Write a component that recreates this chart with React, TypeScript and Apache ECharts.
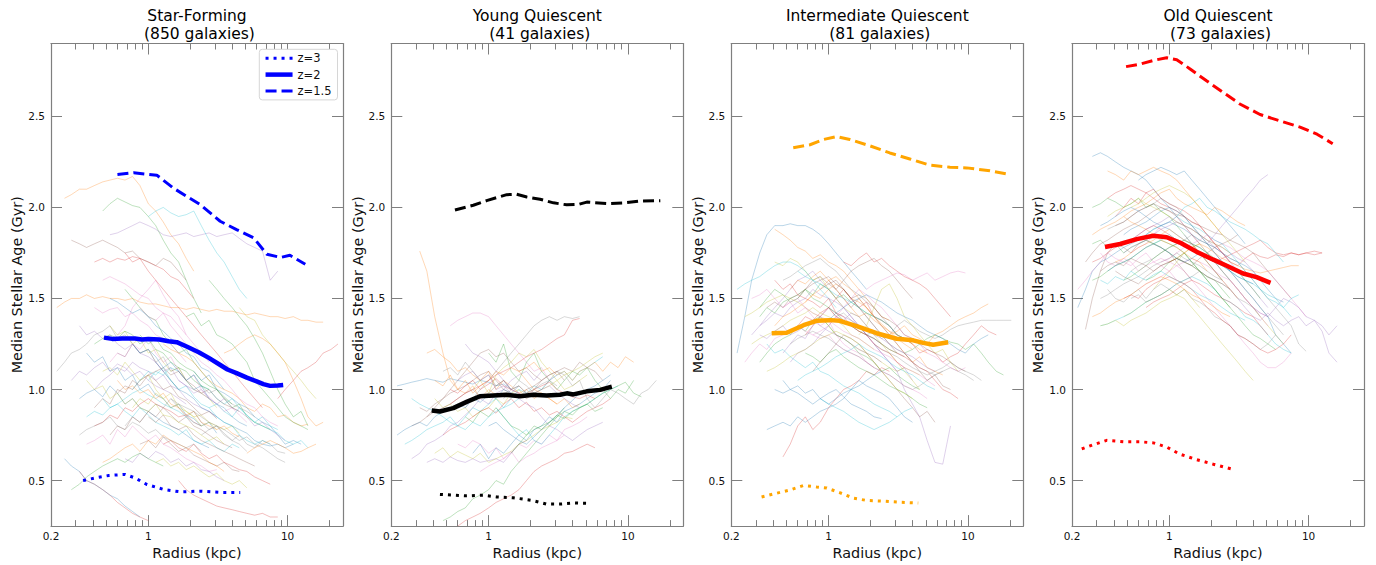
import { useEffect, useRef } from 'react';
import * as echarts from 'echarts';

// ---------------- data ----------------
// radius grid (kpc) shared by the individual galaxy profiles
const RADIUS_GRID = [0.22, 0.25, 0.28, 0.32, 0.36, 0.41, 0.47, 0.53, 0.6, 0.68, 0.77, 0.87, 1.0, 1.13, 1.28, 1.45, 1.65, 1.87, 2.12, 2.4, 2.73, 3.1, 3.5, 4.0, 4.5, 5.1, 5.8, 6.6, 7.5, 8.5, 9.6, 11, 12.5, 14, 16, 18, 20.5, 23];

const PANEL_TITLES = ['Star-Forming', 'Young Quiescent', 'Intermediate Quiescent', 'Old Quiescent'];
const GALAXY_COUNTS = [850, 41, 81, 73];
const MEDIAN_COLORS = ['#0000ff', '#000000', '#ffa500', '#ff0000'];
const PROFILE_COLORS = ['#1f77b4', '#ff7f0e', '#2ca02c', '#d62728', '#9467bd', '#8c564b', '#e377c2', '#7f7f7f', '#bcbd22', '#17becf'];
const LEGEND_LABELS = ['z=3', 'z=2', 'z=1.5'];

const X_LABEL_TICKS = [0.2, 1, 10];
const X_MAJOR_TICKS = [1, 10];
const X_MINOR_TICKS = [0.3, 0.4, 0.5, 0.6, 0.7, 0.8, 0.9, 2, 3, 4, 5, 6, 7, 8, 9, 20];
const Y_TICKS = [0.5, 1.0, 1.5, 2.0, 2.5];
const X_MIN = 0.2;
const X_MAX = 25;
const Y_MIN = 0.25;
const Y_MAX = 2.9;

// individual profiles: [start index in RADIUS_GRID, ages (Gyr)...]
const SF_PROFILES = [
  [4, 1.2, 1.15, 1.18, 1.1, 1.12, 1.05, 1.08, 1.0, 1.03, 0.97, 0.95, 0.9, 0.92, 0.86, 0.84, 0.8, 0.82, 0.76],
  [1, 2.05, 2.07, 2.1, 2.1, 2.12, 2.14, 2.15, 2.16, 2.15, 2.17, 2.12, 2.02, 1.98, 1.92, 1.85, 1.8, 1.72, 1.65],
  [6, 1.98, 2.02, 2.05, 2.03, 2.01, 2.0, 1.95, 1.9, 1.82, 1.75, 1.7, 1.6, 1.5, 1.42],
  [5, 1.7, 1.72, 1.7, 1.72, 1.71, 1.73, 1.72, 1.7, 1.68, 1.66, 1.62, 1.6, 1.55, 1.5],
  [7, 1.85, 1.86, 1.88, 1.9, 1.92, 1.9, 1.88, 1.85, 1.84, 1.85, 1.86, 1.84, 1.85, 1.86, 1.84, 1.85, 1.86, 1.83, 1.8, 1.78, 1.76, 1.6, 1.65],
  [2, 1.82, 1.8, 1.78, 1.8, 1.82, 1.8, 1.78, 1.75, 1.76, 1.72, 1.7, 1.68, 1.72, 1.7, 1.65, 1.6],
  [8, 1.3, 1.35, 1.45, 1.5, 1.55, 1.6, 1.52, 1.45, 1.4, 1.3, 1.25, 1.2, 1.15],
  [0, 1.1, 1.15, 1.2, 1.22, 1.25, 1.3, 1.32, 1.35, 1.28, 1.3, 1.25, 1.2, 1.22, 1.15, 1.1, 1.05, 1.0],
  [6, 1.1, 1.12, 1.08, 1.15, 1.1, 1.05, 1.08, 1.0, 0.95, 0.98, 0.9, 0.88, 0.85, 0.8, 0.82, 0.78],
  [12, 1.95, 1.98, 2.0, 1.97, 1.95, 1.96, 1.98, 1.9, 1.82, 1.75, 1.7, 1.62, 1.55, 1.5],
  [3, 0.95, 0.98, 1.0, 0.96, 1.02, 0.98, 0.92, 0.95, 0.9, 0.88, 0.85, 0.82, 0.8, 0.78, 0.75, 0.72, 0.7, 0.68],
  [0, 1.45, 1.48, 1.5, 1.5, 1.52, 1.5, 1.51, 1.5, 1.5, 1.49, 1.5, 1.48, 1.47, 1.47, 1.46, 1.45, 1.45, 1.44, 1.45, 1.44, 1.43, 1.44, 1.43, 1.43, 1.42, 1.41, 1.42, 1.41, 1.4, 1.4, 1.39, 1.4, 1.38, 1.38, 1.37, 1.37],
  [9, 1.55, 1.5, 1.45, 1.4, 1.38, 1.3, 1.25, 1.2, 1.22, 1.15, 1.1, 1.05, 1.0, 0.95, 0.9, 0.92, 0.85, 0.82, 0.8, 0.78],
  [3, 0.55, 0.5, 0.48, 0.45, 0.42, 0.38, 0.35, 0.32, 0.3, 0.28],
  [5, 1.0, 1.05, 1.08, 1.12, 1.1, 1.15, 1.12, 1.1, 1.05, 1.08, 1.02, 1.0, 0.95, 0.92, 0.9, 0.88, 0.85],
  [7, 0.75, 0.8, 0.78, 0.85, 0.82, 0.88, 0.85, 0.9, 0.86, 0.82, 0.85, 0.8, 0.78, 0.75, 0.72, 0.7, 0.68],
  [4, 0.7, 0.72, 0.75, 0.7, 0.78, 0.74, 0.8, 0.76, 0.72, 0.75, 0.7, 0.68, 0.65, 0.62, 0.6, 0.58, 0.55, 0.56],
  [8, 1.2, 1.18, 1.25, 1.2, 1.22, 1.15, 1.18, 1.1, 1.12, 1.05, 1.08, 1.02, 0.98, 1.0, 0.95, 0.92, 0.9, 0.88, 0.85],
  [10, 0.9, 0.95, 0.92, 0.98, 0.95, 0.9, 0.92, 0.88, 0.85, 0.86, 0.82, 0.8, 0.78, 0.8, 0.76],
  [6, 0.95, 0.9, 0.92, 0.88, 0.85, 0.9, 0.86, 0.82, 0.8, 0.78, 0.75, 0.78, 0.72, 0.7, 0.72, 0.68, 0.66, 0.7, 0.68],
  [13, 1.15, 1.1, 1.05, 1.0, 0.98, 0.95, 0.9, 0.88, 0.85, 0.82, 0.8, 0.78, 0.76, 0.72, 0.7, 0.69, 0.7, 0.68, 0.7],
  [14, 1.25, 1.22, 1.2, 1.18, 1.15, 1.1, 1.05, 1.02, 1.0, 0.98, 0.95, 0.9, 0.88, 0.92, 0.9, 0.85, 0.86, 0.82, 0.8, 0.81],
  [17, 1.4, 1.42, 1.35, 1.38, 1.3, 1.28, 1.25, 1.2, 1.15, 1.05, 1.0, 0.95, 0.9, 0.85, 0.82, 0.8, 0.78],
  [29, 0.95, 1.0, 1.05, 1.1, 1.12, 1.15, 1.2, 1.22, 1.25],
  [2, 1.05, 1.1, 1.08, 1.12, 1.15, 1.1, 1.14, 1.12, 1.08, 1.1, 1.05, 1.02, 1.0, 0.98, 0.95, 0.92],
  [11, 0.7, 0.72, 0.68, 0.74, 0.7, 0.66, 0.68, 0.64, 0.62, 0.6, 0.58, 0.6, 0.56, 0.55],
  [5, 1.45, 1.42, 1.44, 1.45, 1.4, 1.42, 1.38, 1.35, 1.3, 1.28, 1.25, 1.2, 1.15],
  [15, 0.95, 0.92, 0.9, 0.88, 0.85, 0.82, 0.8, 0.78, 0.75, 0.72, 0.74, 0.7, 0.68, 0.65, 0.62, 0.6],
  [7, 1.35, 1.3, 1.32, 1.25, 1.28, 1.2, 1.22, 1.15, 1.1, 1.12, 1.05, 1.0, 0.98, 0.95, 0.9],
  [10, 1.0, 1.05, 1.1, 1.08, 1.12, 1.05, 1.0, 1.02, 0.96, 0.92, 0.9, 0.85, 0.82, 0.8, 0.75, 0.72, 0.7, 0.72, 0.7],
  [18, 1.1, 1.05, 1.08, 1.0, 0.98, 0.95, 0.92, 0.9, 0.85, 0.82, 0.8, 0.75, 0.7, 0.72, 0.7],
  [22, 1.2, 1.22, 1.25, 1.28, 1.3, 1.28, 1.25, 1.2, 1.15, 1.05, 0.95, 0.85, 0.8, 0.82],
  [20, 1.6, 1.55, 1.5, 1.45, 1.4, 1.35, 1.28, 1.2, 1.1, 1.0, 0.92, 0.85, 0.88, 0.8],
  [16, 0.5, 0.45, 0.42, 0.4, 0.38, 0.36, 0.35, 0.34, 0.33, 0.32, 0.31, 0.32, 0.3, 0.3],
  [9, 0.62, 0.6, 0.65, 0.62, 0.66, 0.64, 0.6, 0.62, 0.58, 0.6, 0.56, 0.55, 0.52, 0.5],
  [12, 0.85, 0.82, 0.86, 0.8, 0.78, 0.8, 0.75, 0.72, 0.7, 0.68, 0.66, 0.64, 0.62, 0.6, 0.58],
  [6, 1.6, 1.62, 1.6, 1.58, 1.55, 1.52, 1.5, 1.45, 1.42, 1.4, 1.35, 1.3],
  [19, 0.75, 0.78, 0.8, 0.76, 0.72, 0.75, 0.7, 0.68, 0.72, 0.7, 0.66, 0.65],
  [24, 1.45, 1.4, 1.38, 1.3, 1.25, 1.2, 1.15, 1.1, 1.05, 1.0, 0.95],
  [4, 0.85, 0.88, 0.86, 0.9, 0.92, 0.95, 0.98, 1.0, 0.97, 0.95, 0.92, 0.9, 0.88, 0.85, 0.82, 0.8],
  [1, 0.62, 0.58, 0.55, 0.5, 0.48, 0.45, 0.42, 0.4, 0.36, 0.33, 0.3],
  [8, 1.05, 1.0, 1.02, 0.98, 1.0, 0.95, 0.98, 0.92, 0.9, 0.86, 0.88, 0.82, 0.8, 0.78, 0.8, 0.76, 0.74],
  [11, 1.3, 1.25, 1.28, 1.22, 1.2, 1.15, 1.12, 1.1, 1.05, 1.02, 1.0, 0.96, 0.92],
  [5, 0.8, 0.82, 0.86, 0.84, 0.9, 0.88, 0.92, 0.95, 0.92, 0.9, 0.88, 0.85, 0.86, 0.82, 0.8],
  [3, 1.35, 1.3, 1.32, 1.28, 1.3, 1.25, 1.22, 1.25, 1.2, 1.18, 1.15, 1.1, 1.12, 1.05, 1.02, 1.0, 0.98, 0.95],
  [5, 0.9, 0.95, 0.92, 1.0, 0.98, 1.05, 1.02, 1.08, 1.05, 1.0, 1.02, 0.96, 0.94, 0.9, 0.86, 0.88, 0.84],
  [7, 1.15, 1.2, 1.18, 1.25, 1.22, 1.28, 1.2, 1.15, 1.18, 1.1, 1.05, 1.08, 1.0, 0.96, 0.92, 0.88, 0.9, 0.86, 0.82],
  [9, 0.8, 0.85, 0.82, 0.88, 0.92, 0.9, 0.95, 0.9, 0.85, 0.88, 0.82, 0.78, 0.8, 0.75, 0.72, 0.7, 0.66],
  [4, 1.05, 1.0, 1.02, 0.95, 0.98, 0.92, 0.95, 0.9, 0.88, 0.92, 0.86, 0.85, 0.82, 0.8, 0.78, 0.75, 0.72, 0.74, 0.7],
  [12, 1.05, 1.1, 1.08, 1.12, 1.1, 1.05, 1.08, 1.02, 1.0, 0.95, 0.92, 0.95, 0.9, 0.86, 0.82, 0.85, 0.8, 0.78],
  [10, 1.25, 1.2, 1.22, 1.18, 1.12, 1.15, 1.1, 1.05, 1.0, 1.02, 0.95, 0.92, 0.9, 0.85, 0.82, 0.8],
  [6, 0.6, 0.62, 0.65, 0.68, 0.7, 0.66, 0.72, 0.7, 0.75, 0.72, 0.7, 0.68, 0.66, 0.64, 0.6, 0.58, 0.55],
  [2, 0.45, 0.48, 0.52, 0.55, 0.58, 0.6, 0.62, 0.6, 0.63, 0.65, 0.62, 0.6, 0.58],
  [14, 0.7, 0.72, 0.68, 0.66, 0.7, 0.65, 0.62, 0.64, 0.6, 0.58, 0.56, 0.55, 0.52, 0.5, 0.48],
  [16, 1.05, 1.02, 0.98, 1.0, 0.95, 0.92, 0.95, 0.9, 0.88, 0.85, 0.8, 0.82, 0.78, 0.75, 0.72],
  [8, 0.98, 1.02, 1.0, 1.05, 1.08, 1.1, 1.12, 1.08, 1.1, 1.05, 1.02, 0.98, 1.0, 0.95, 0.92, 0.9, 0.88],
  [11, 1.45, 1.4, 1.38, 1.42, 1.35, 1.3, 1.25, 1.2, 1.15, 1.12, 1.08, 1.05, 1.0, 0.95, 0.92, 0.9, 0.85, 0.82, 0.8],
  [3, 0.75, 0.78, 0.8, 0.82, 0.85, 0.8, 0.78, 0.82, 0.8, 0.76, 0.78, 0.74, 0.72, 0.7, 0.68, 0.7, 0.66],
  [13, 0.6, 0.62, 0.58, 0.6, 0.56, 0.58, 0.55, 0.52, 0.54, 0.5, 0.48, 0.5, 0.46],
  [20, 0.9, 0.92, 0.88, 0.85, 0.9, 0.86, 0.82, 0.8, 0.78, 0.76, 0.72, 0.7, 0.72, 0.68],
  [7, 1.5, 1.48, 1.45, 1.42, 1.44, 1.4, 1.35, 1.32, 1.28, 1.25, 1.2, 1.18, 1.12, 1.1, 1.05, 1.0],
  [25, 0.65, 0.68, 0.7, 0.72, 0.7, 0.68, 0.65, 0.66, 0.68, 0.7],
  [5, 1.25, 1.28, 1.3, 1.28, 1.32, 1.3, 1.25, 1.28, 1.22, 1.2, 1.15, 1.12, 1.1, 1.05, 1.02, 1.0],
  [9, 1.75, 1.7, 1.72, 1.65, 1.6, 1.55, 1.5, 1.45, 1.4, 1.35, 1.3, 1.25, 1.2, 1.15, 1.1, 1.05, 1.0, 0.95, 0.9],
];

const YQ_PROFILES = [
  [0, 1.02, 1.03, 1.04, 1.05, 1.06, 1.05, 1.04, 1.06, 1.05, 1.04, 1.03, 1.05, 1.04, 1.02, 1.03, 1.0],
  [3, 1.76, 1.65, 1.4, 1.2, 1.05, 1.0, 0.98, 1.02, 0.95, 1.0, 0.97],
  [6, 0.28, 0.3, 0.33, 0.35, 0.4, 0.42, 0.45, 0.5, 0.48, 0.55, 0.6, 0.65, 0.7, 0.75, 0.8, 0.85, 0.9],
  [8, 0.25, 0.28, 0.3, 0.32, 0.35, 0.38, 0.4, 0.42, 0.45, 0.5, 0.55, 0.58, 0.6, 0.62, 0.65, 0.66, 0.68, 0.7, 0.68],
  [4, 0.6, 0.62, 0.6, 0.63, 0.61, 0.6, 0.62, 0.6, 0.61, 0.62, 0.6, 0.65, 0.7, 0.72],
  [2, 0.8, 0.82, 0.85, 0.9, 0.95, 1.0, 1.05, 1.1, 1.15, 1.2, 1.22, 1.18, 1.2, 1.15, 1.1, 1.12, 1.08, 1.05],
  [7, 1.35, 1.38, 1.4, 1.42, 1.42, 1.4, 1.35, 1.3, 1.25, 1.2, 1.15, 1.1, 1.12, 1.05, 1.08],
  [9, 0.9, 0.95, 1.0, 1.05, 1.1, 1.15, 1.2, 1.25, 1.3, 1.35, 1.38, 1.4, 1.38, 1.4, 1.39, 1.4],
  [5, 0.95, 0.9, 0.92, 0.88, 0.9, 0.85, 0.88, 0.9, 0.95, 0.92, 0.98, 1.0, 0.95, 0.98, 1.0, 1.02, 1.05, 1.0, 1.02, 1.05, 1.08],
  [1, 0.7, 0.72, 0.75, 0.78, 0.8, 0.82, 0.85, 0.8, 0.85, 0.9, 0.88, 0.92, 0.95, 0.9, 0.95, 1.0, 0.98, 1.02, 1.0, 1.05, 1.08, 1.1, 1.05, 1.1, 1.12, 1.15, 1.18],
  [10, 0.65, 0.7, 0.62, 0.68, 0.65, 0.7, 0.75, 0.72, 0.78, 0.8, 0.85, 0.82, 0.88, 0.9, 0.92, 0.95, 0.98, 1.0, 1.05],
  [4, 1.2, 1.22, 1.18, 1.15, 1.1, 1.12, 1.08, 1.05, 1.1, 1.0, 1.05, 1.02, 0.98, 1.0, 0.95, 0.98, 0.95, 0.92, 0.95, 0.9, 0.92],
  [12, 1.2, 1.15, 1.25, 1.1, 1.05, 1.15, 1.2, 1.1, 1.05, 1.0, 1.05, 1.1, 1.08, 1.12, 1.05, 1.0, 0.95, 1.0, 0.98, 1.05],
  [6, 0.75, 0.78, 0.8, 0.82, 0.85, 0.88, 0.9, 0.87, 0.92, 0.95, 0.9, 0.93, 0.88, 0.9, 0.86, 0.88, 0.85, 0.82, 0.85, 0.88, 0.9, 0.92, 0.95],
  [8, 1.05, 1.08, 1.1, 1.05, 1.08, 1.0, 1.02, 0.98, 0.95, 0.92, 0.9, 0.85, 0.8, 0.78, 0.75, 0.72, 0.75, 0.78, 0.8, 0.82],
  [3, 0.9, 0.88, 0.92, 0.95, 0.98, 1.0, 1.02, 1.05, 1.08, 1.1, 1.05, 1.0, 0.98, 0.95, 1.0, 1.02, 1.05, 1.08, 1.1, 1.12, 1.1, 1.15, 1.12, 1.1, 1.05],
  [11, 0.55, 0.58, 0.6, 0.62, 0.65, 0.7, 0.68, 0.72, 0.7, 0.75, 0.72, 0.78, 0.8, 0.82, 0.85],
  [14, 0.95, 1.0, 1.05, 1.02, 0.98, 1.0, 1.05, 1.1, 1.08, 1.02, 1.05, 0.95, 0.9, 0.95, 1.0, 0.98, 0.95, 0.92, 0.98, 1.0, 1.05],
  [5, 0.65, 0.68, 0.63, 0.66, 0.64, 0.62, 0.65, 0.6, 0.62, 0.64, 0.66, 0.7, 0.72, 0.75, 0.78, 0.8, 0.82, 0.85, 0.84],
  [13, 0.9, 0.85, 0.8, 0.75, 0.78, 0.72, 0.7, 0.75, 0.8, 0.85, 0.88, 0.9, 0.92, 0.95, 0.98, 1.0, 1.02],
  [0, 0.75, 0.78, 0.8, 0.82, 0.8, 0.85, 0.88, 0.9, 0.92, 0.9, 0.95, 0.93, 0.97, 0.95, 1.0, 0.98, 1.02],
  [16, 1.1, 1.12, 1.15, 1.1, 1.12, 1.08, 1.1, 1.05, 1.1, 1.12, 1.15, 1.1, 1.15, 1.12, 1.18, 1.15],
  [9, 0.85, 0.82, 0.88, 0.85, 0.9, 0.85, 0.8, 0.78, 0.75, 0.78, 0.8, 0.82, 0.85, 0.88, 0.86, 0.9, 0.92, 0.88, 0.9],
  [7, 1.0, 0.98, 1.02, 1.05, 1.0, 1.03, 1.06, 1.02, 1.0, 0.98, 0.96, 1.0, 1.02, 1.04, 1.0, 0.98, 0.96, 0.95, 0.97, 0.95],
  [2, 0.62, 0.65, 0.7, 0.72, 0.75, 0.8, 0.82, 0.86, 0.9, 0.95, 0.92, 0.98, 1.0, 1.05, 1.08, 1.1, 1.05, 1.1],
  [4, 0.85, 0.88, 0.9, 0.92, 0.95, 0.98, 1.0, 0.96, 0.98, 1.02, 1.05, 1.0, 1.02, 0.98, 1.0, 1.05, 1.08, 1.1, 1.05],
  [8, 0.7, 0.68, 0.72, 0.7, 0.65, 0.68, 0.62, 0.66, 0.6, 0.63, 0.65, 0.68, 0.7, 0.72, 0.75],
  [6, 1.1, 1.12, 1.08, 1.15, 1.1, 1.05, 1.08, 1.02, 1.05, 1.0, 1.02, 0.98, 1.0, 1.03, 1.05, 1.02],
  [10, 1.0, 1.05, 0.98, 1.08, 1.12, 1.15, 1.2, 1.18, 1.22, 1.15, 1.1, 1.05, 1.08, 1.1, 1.12, 1.15, 1.18, 1.2],
  [2, 0.95, 0.92, 0.9, 0.88, 0.85, 0.82, 0.8, 0.78, 0.82, 0.8, 0.85, 0.88, 0.9, 0.92, 0.95],
  [12, 0.8, 0.82, 0.78, 0.75, 0.72, 0.7, 0.74, 0.78, 0.82, 0.86, 0.9, 0.94, 0.98, 1.0, 1.02, 1.05, 1.08],
  [5, 1.05, 1.02, 1.08, 1.0, 1.05, 0.98, 1.02, 1.05, 1.1, 1.08, 1.12, 1.1, 1.05, 1.0, 0.98, 0.95, 0.92],
  [15, 0.65, 0.7, 0.75, 0.8, 0.78, 0.82, 0.86, 0.84, 0.88, 0.9, 0.92, 0.95, 0.98, 1.0, 1.02, 1.04, 0.98, 0.96],
  [7, 0.92, 0.95, 0.98, 1.0, 1.02, 1.05, 1.08, 1.1, 1.12, 1.15, 1.18, 1.2, 1.22, 1.25, 1.28, 1.3, 1.38, 1.39],
  [9, 1.25, 1.2, 1.18, 1.15, 1.1, 1.05, 1.0, 0.98, 0.95, 0.98, 1.0, 1.02, 0.98, 0.95, 0.92, 0.9],
];

const IQ_PROFILES = [
  [0, 1.2, 1.4, 1.6, 1.75, 1.85, 1.9, 1.9, 1.91, 1.9, 1.9, 1.88, 1.85, 1.8, 1.75, 1.7, 1.65, 1.6, 1.55],
  [5, 1.88, 1.85, 1.82, 1.78, 1.76, 1.72, 1.74, 1.7, 1.68, 1.65, 1.6, 1.55, 1.5, 1.45, 1.4, 1.38],
  [3, 1.45, 1.5, 1.55, 1.52, 1.48, 1.5, 1.55, 1.52, 1.58, 1.55, 1.5, 1.52, 1.48, 1.45, 1.42, 1.4, 1.38, 1.35, 1.3, 1.28, 1.25],
  [6, 0.63, 0.7, 0.8, 0.85, 0.78, 0.82, 0.9, 0.95, 1.0, 1.02, 1.05, 1.1, 1.08, 1.12, 1.1],
  [2, 1.3, 1.35, 1.4, 1.45, 1.5, 1.55, 1.6, 1.62, 1.65, 1.6, 1.55, 1.5, 1.45, 1.4, 1.35, 1.3, 1.25, 1.2, 1.15, 1.1, 1.12, 1.05],
  [8, 1.5, 1.55, 1.6, 1.62, 1.58, 1.55, 1.6, 1.65, 1.68, 1.7, 1.72, 1.68, 1.65, 1.6, 1.55, 1.5],
  [17, 1.55, 1.58, 1.6, 1.62, 1.64, 1.63, 1.6, 1.62, 1.64, 1.6, 1.62, 1.64, 1.65, 1.64],
  [12, 1.45, 1.4, 1.42, 1.38, 1.35, 1.3, 1.32, 1.28, 1.3, 1.35, 1.38, 1.35, 1.32, 1.3, 1.28, 1.3, 1.33, 1.35, 1.36, 1.37, 1.38, 1.38, 1.38, 1.38, 1.38],
  [1, 1.4, 1.42, 1.45, 1.48, 1.5, 1.52, 1.5, 1.48, 1.45, 1.42, 1.4, 1.35, 1.3, 1.28, 1.25, 1.22, 1.2, 1.18, 1.15, 1.12, 1.1, 1.12, 1.1, 1.08],
  [4, 1.25, 1.2, 1.22, 1.18, 1.15, 1.12, 1.15, 1.1, 1.08, 1.05, 1.02, 1.0, 0.98, 0.95, 0.92, 0.9, 0.88, 0.85],
  [5, 1.0, 0.98, 1.0, 1.02, 0.98, 1.0, 0.95, 0.92, 0.95, 0.98, 1.0, 1.05, 1.02, 1.0, 0.98, 0.95, 0.9, 0.85, 0.82],
  [7, 1.55, 1.6, 1.58, 1.62, 1.65, 1.6, 1.55, 1.5, 1.45, 1.4, 1.42, 1.38, 1.35, 1.3, 1.25, 1.2, 1.15, 1.18, 1.12, 1.1, 1.08],
  [3, 1.15, 1.2, 1.25, 1.28, 1.3, 1.35, 1.32, 1.38, 1.4, 1.35, 1.3, 1.28, 1.25, 1.2, 1.18, 1.15, 1.1, 1.12, 1.08, 1.05, 1.02, 1.0],
  [9, 1.3, 1.35, 1.4, 1.45, 1.5, 1.55, 1.5, 1.45, 1.48, 1.4, 1.38, 1.35, 1.3, 1.28, 1.25, 1.2, 1.22, 1.2, 1.15, 1.18, 1.2, 1.25, 1.3, 1.35, 1.32, 1.3],
  [6, 1.2, 1.25, 1.3, 1.28, 1.35, 1.4, 1.45, 1.42, 1.4, 1.38, 1.35, 1.3, 1.25, 1.2, 1.15, 1.1, 1.0, 0.92, 0.85, 0.72, 0.6, 0.59, 0.8],
  [10, 1.1, 1.15, 1.2, 1.25, 1.3, 1.28, 1.25, 1.2, 1.15, 1.1, 1.05, 1.0, 0.95, 0.9, 0.85, 0.88, 0.82],
  [2, 1.5, 1.52, 1.55, 1.5, 1.45, 1.48, 1.42, 1.45, 1.4, 1.35, 1.38, 1.3, 1.25, 1.22, 1.2, 1.15, 1.12, 1.1, 1.08, 1.05, 1.02, 1.0, 0.98, 0.95],
  [14, 1.55, 1.5, 1.45, 1.4, 1.35, 1.3, 1.25, 1.22, 1.2, 1.15, 1.12, 1.1, 1.08, 1.1, 1.12, 1.1, 1.08, 1.05],
  [5, 1.7, 1.68, 1.72, 1.7, 1.65, 1.6, 1.62, 1.55, 1.5, 1.45, 1.42, 1.4, 1.35, 1.3, 1.25, 1.2, 1.15, 1.1, 1.05, 1.0],
  [11, 0.95, 0.92, 0.9, 0.88, 0.85, 0.82, 0.8, 0.78, 0.8, 0.82, 0.85, 0.88, 0.9],
  [4, 0.78, 0.8, 0.82, 0.8, 0.85, 0.82, 0.85, 0.88, 0.9, 0.92, 0.95, 1.0, 1.02, 1.05, 1.08, 1.1],
  [20, 1.3, 1.32, 1.35, 1.3, 1.28, 1.25, 1.3, 1.32, 1.35, 1.38, 1.4, 1.42, 1.45, 1.47],
  [22, 1.2, 1.22, 1.25, 1.28, 1.3, 1.28, 1.26, 1.25, 1.22, 1.25, 1.2, 1.15, 1.1, 1.08],
  [8, 1.35, 1.4, 1.38, 1.42, 1.45, 1.4, 1.38, 1.35, 1.32, 1.3, 1.28, 1.25, 1.22, 1.2, 1.18, 1.15, 1.12, 1.1, 1.05, 1.0, 0.98, 0.95],
  [3, 1.35, 1.38, 1.42, 1.4, 1.45, 1.48, 1.5, 1.55, 1.52, 1.5, 1.48, 1.45, 1.4, 1.35, 1.3, 1.28, 1.25],
  [12, 1.6, 1.55, 1.5, 1.45, 1.5, 1.45, 1.4, 1.35, 1.3, 1.25, 1.2, 1.15, 1.1, 1.05, 1.08, 1.02, 1.0],
  [1, 1.15, 1.2, 1.25, 1.22, 1.28, 1.3, 1.32, 1.35, 1.32, 1.3, 1.28, 1.3, 1.25, 1.22, 1.2, 1.18, 1.15, 1.12],
  [7, 1.25, 1.28, 1.3, 1.32, 1.3, 1.28, 1.25, 1.22, 1.2, 1.18, 1.15, 1.12, 1.1, 1.08, 1.05, 1.02, 1.0, 1.02, 1.05, 1.08, 1.1],
  [16, 1.3, 1.35, 1.45, 1.55, 1.58, 1.5, 1.4, 1.35, 1.3, 1.25, 1.2, 1.22, 1.15, 1.1],
  [0, 1.55, 1.58, 1.6, 1.62, 1.65, 1.68, 1.7, 1.7, 1.68, 1.65, 1.6, 1.55, 1.5, 1.45],
  [6, 1.05, 1.0, 0.98, 0.95, 0.92, 0.95, 0.98, 1.0, 0.96, 0.92, 0.9, 0.88, 0.85, 0.84],
  [9, 1.48, 1.52, 1.5, 1.55, 1.58, 1.55, 1.5, 1.48, 1.45, 1.4, 1.36, 1.32, 1.28, 1.25, 1.22],
  [3, 1.4, 1.45, 1.42, 1.48, 1.5, 1.52, 1.55, 1.5, 1.48, 1.45, 1.42, 1.38, 1.35, 1.32, 1.3, 1.28, 1.25, 1.22, 1.2],
  [5, 1.6, 1.55, 1.58, 1.52, 1.5, 1.48, 1.45, 1.5, 1.42, 1.4, 1.35, 1.32, 1.3, 1.25, 1.22, 1.2, 1.15, 1.12],
  [7, 1.15, 1.2, 1.22, 1.25, 1.3, 1.35, 1.4, 1.38, 1.42, 1.4, 1.35, 1.3, 1.28, 1.25, 1.22, 1.2, 1.18, 1.15, 1.12, 1.1],
  [4, 1.45, 1.48, 1.45, 1.5, 1.52, 1.55, 1.58, 1.6, 1.62, 1.58, 1.55, 1.5, 1.45, 1.4, 1.35, 1.3, 1.25, 1.2, 1.18],
  [10, 1.3, 1.32, 1.35, 1.4, 1.45, 1.5, 1.55, 1.52, 1.48, 1.45, 1.4, 1.35, 1.3, 1.28, 1.25, 1.2, 1.18, 1.15, 1.12, 1.1, 1.12],
  [6, 1.6, 1.62, 1.65, 1.68, 1.7, 1.72, 1.68, 1.65, 1.6, 1.55, 1.52, 1.5, 1.45, 1.4, 1.35, 1.3],
  [2, 1.25, 1.28, 1.3, 1.32, 1.35, 1.38, 1.4, 1.42, 1.45, 1.42, 1.4, 1.38, 1.35, 1.3, 1.28, 1.25, 1.22],
  [8, 1.05, 1.08, 1.1, 1.12, 1.15, 1.18, 1.2, 1.22, 1.25, 1.22, 1.2, 1.18, 1.15, 1.12, 1.1, 1.08, 1.05, 1.02, 1.0],
  [12, 1.38, 1.42, 1.45, 1.48, 1.5, 1.52, 1.5, 1.48, 1.45, 1.42, 1.4, 1.38, 1.35, 1.32, 1.3, 1.28, 1.25, 1.22, 1.2, 1.25, 1.28, 1.3],
  [5, 1.35, 1.4, 1.42, 1.45, 1.48, 1.52, 1.55, 1.6, 1.62, 1.58, 1.55, 1.5, 1.45, 1.4, 1.35, 1.32, 1.3, 1.28, 1.25, 1.22, 1.2],
  [9, 1.2, 1.18, 1.15, 1.2, 1.22, 1.18, 1.15, 1.12, 1.1, 1.08, 1.05, 1.02, 1.0, 0.98, 0.95, 0.92, 0.9],
  [14, 1.7, 1.68, 1.72, 1.75, 1.7, 1.72, 1.68, 1.65, 1.62, 1.6, 1.58, 1.55, 1.5, 1.45, 1.4],
  [3, 1.3, 1.28, 1.32, 1.35, 1.3, 1.32, 1.35, 1.38, 1.35, 1.32, 1.3, 1.28, 1.25, 1.22, 1.2, 1.18, 1.15],
  [11, 1.55, 1.58, 1.6, 1.55, 1.5, 1.52, 1.48, 1.45, 1.4, 1.38, 1.35, 1.3, 1.28, 1.25, 1.22, 1.2, 1.18, 1.15, 1.12, 1.1],
  [6, 1.45, 1.48, 1.5, 1.45, 1.42, 1.4, 1.38, 1.35, 1.32, 1.3, 1.28, 1.25, 1.22, 1.2, 1.18, 1.15, 1.12, 1.1, 1.08, 1.05, 1.02],
  [18, 1.25, 1.22, 1.2, 1.18, 1.15, 1.12, 1.1, 1.08, 1.1, 1.12, 1.15, 1.12, 1.1, 1.08, 1.05],
  [4, 1.1, 1.12, 1.15, 1.18, 1.2, 1.22, 1.25, 1.28, 1.3, 1.32, 1.3, 1.28, 1.25, 1.2, 1.15, 1.1, 1.05, 1.0, 0.98, 0.95],
  [8, 1.65, 1.62, 1.6, 1.58, 1.55, 1.52, 1.5, 1.48, 1.45, 1.42, 1.4, 1.38, 1.35, 1.3, 1.28],
];

const OQ_PROFILES = [
  [2, 2.28, 2.3, 2.28, 2.25, 2.22, 2.2, 2.18, 2.15, 2.1, 2.05, 2.0, 1.95],
  [4, 2.2, 2.18, 2.15, 2.2, 2.18, 2.2, 2.22, 2.2, 2.18, 2.15, 2.1, 2.05, 2.0, 1.95, 1.9, 1.85],
  [2, 2.0, 2.02, 2.05, 2.03, 2.0, 2.02, 2.05, 2.0, 2.02, 1.98, 1.95, 1.9, 1.85, 1.8, 1.75, 1.7, 1.65, 1.6],
  [5, 1.95, 2.0, 2.05, 2.02, 2.08, 2.1, 2.05, 2.02, 2.0, 1.98, 1.95, 1.9, 1.85, 1.8, 1.75, 1.7, 1.68, 1.72, 1.75, 1.73, 1.72, 1.74, 1.73, 1.75, 1.74, 1.75, 1.76, 1.75],
  [17, 1.8, 1.85, 1.9, 1.95, 2.0, 2.05, 2.1, 2.15, 2.18],
  [1, 1.33, 1.5, 1.65, 1.75, 1.8, 1.78, 1.75, 1.8, 1.82, 1.8, 1.78, 1.75, 1.7, 1.65, 1.6],
  [3, 1.75, 1.7, 1.68, 1.72, 1.7, 1.65, 1.68, 1.7, 1.72, 1.7, 1.68, 1.65, 1.6, 1.55, 1.5, 1.45, 1.4, 1.35, 1.3, 1.25, 1.2, 1.15, 1.12, 1.12, 1.15, 1.2],
  [4, 1.55, 1.5, 1.48, 1.52, 1.55, 1.5, 1.55, 1.58, 1.55, 1.52, 1.55, 1.5, 1.48, 1.45, 1.4, 1.38, 1.35, 1.3, 1.28, 1.25, 1.22, 1.25, 1.3],
  [6, 1.4, 1.42, 1.45, 1.48, 1.5, 1.52, 1.55, 1.52, 1.5, 1.45, 1.4, 1.35, 1.3, 1.25, 1.2, 1.15, 1.1, 1.05],
  [3, 1.35, 1.36, 1.38, 1.4, 1.42, 1.45, 1.48, 1.5, 1.52, 1.55, 1.58, 1.6, 1.62, 1.6, 1.58, 1.55, 1.5, 1.48, 1.45, 1.4, 1.38, 1.35, 1.3, 1.25, 1.22, 1.2],
  [0, 1.45, 1.55, 1.65, 1.7, 1.72, 1.75, 1.78, 1.8, 1.82, 1.85, 1.88, 1.9, 1.92, 1.9, 1.88, 1.85, 1.82, 1.8, 1.78, 1.75, 1.72, 1.7, 1.68, 1.65, 1.6, 1.55, 1.5, 1.48],
  [6, 1.95, 1.98, 2.0, 2.02, 2.05, 2.08, 2.1, 2.05, 2.02, 2.0, 1.98, 1.96, 2.0, 1.98, 1.95, 1.92, 1.9],
  [9, 1.6, 1.62, 1.65, 1.7, 1.72, 1.75, 1.7, 1.65, 1.6, 1.55, 1.5, 1.45, 1.4, 1.35, 1.3, 1.28, 1.25, 1.22],
  [2, 1.7, 1.72, 1.75, 1.78, 1.8, 1.82, 1.85, 1.88, 1.9, 1.88, 1.85, 1.82, 1.8, 1.78, 1.75, 1.72, 1.7, 1.72, 1.74, 1.76, 1.78, 1.8, 1.82, 1.78, 1.75, 1.74, 1.75, 1.74, 1.75, 1.74, 1.75],
  [14, 1.85, 1.8, 1.75, 1.7, 1.65, 1.6, 1.55, 1.5, 1.45, 1.4, 1.38, 1.42, 1.38, 1.35, 1.38, 1.4, 1.35, 1.38, 1.32, 1.2, 1.15],
  [5, 1.65, 1.62, 1.6, 1.58, 1.62, 1.65, 1.68, 1.7, 1.72, 1.7, 1.68, 1.72, 1.75, 1.78, 1.8, 1.82, 1.85],
  [7, 1.75, 1.78, 1.8, 1.85, 1.9, 1.92, 1.95, 1.9, 1.85, 1.8, 1.75, 1.7, 1.65, 1.6, 1.55, 1.5, 1.45, 1.42, 1.4],
  [4, 1.88, 1.9, 1.92, 1.95, 1.98, 2.0, 2.02, 2.05, 2.02, 2.0, 1.95, 1.9, 1.85, 1.8, 1.75, 1.7, 1.65, 1.6, 1.55, 1.5, 1.45, 1.4, 1.35, 1.3],
  [10, 1.55, 1.6, 1.65, 1.7, 1.75, 1.78, 1.8, 1.75, 1.7, 1.65, 1.6, 1.55, 1.5, 1.45, 1.4, 1.35, 1.3, 1.25],
  [3, 1.6, 1.58, 1.62, 1.6, 1.65, 1.62, 1.6, 1.63, 1.65, 1.62, 1.6, 1.58, 1.55, 1.52, 1.5, 1.48, 1.45, 1.42, 1.4, 1.38],
  [8, 2.15, 2.18, 2.2, 2.22, 2.2, 2.18, 2.2, 2.15, 2.1, 2.05, 2.0, 1.95, 1.9, 1.85, 1.8],
  [12, 1.7, 1.72, 1.75, 1.78, 1.8, 1.78, 1.75, 1.72, 1.7, 1.68, 1.66, 1.65, 1.64, 1.65, 1.66, 1.67, 1.68, 1.68],
  [2, 1.8, 1.82, 1.78, 1.8, 1.75, 1.78, 1.8, 1.82, 1.8, 1.78, 1.75, 1.72, 1.7, 1.68, 1.65, 1.62, 1.6, 1.55, 1.5],
  [6, 1.5, 1.52, 1.5, 1.55, 1.58, 1.6, 1.62, 1.6, 1.58, 1.55, 1.5, 1.45, 1.42, 1.38, 1.35, 1.3, 1.28, 1.25, 1.22, 1.2, 1.22, 1.25, 1.3],
  [20, 1.6, 1.55, 1.5, 1.45, 1.42, 1.4, 1.45, 1.5, 1.48, 1.45, 1.4, 1.38, 1.35, 1.3, 1.35],
  [5, 1.9, 1.92, 1.95, 1.98, 2.0, 2.02, 2.0, 1.98, 1.96, 1.95, 1.92, 1.9, 1.88, 1.86, 1.85, 1.82, 1.8, 1.78, 1.75, 1.7, 1.65, 1.6, 1.55, 1.5],
  [0, 1.55, 1.6, 1.65, 1.7, 1.75, 1.72, 1.7, 1.68, 1.72, 1.75, 1.7, 1.68, 1.65, 1.6],
  [7, 1.65, 1.68, 1.7, 1.72, 1.75, 1.78, 1.8, 1.82, 1.85, 1.82, 1.8, 1.78, 1.75, 1.72, 1.7, 1.65, 1.6, 1.55, 1.5, 1.45, 1.4, 1.35, 1.25, 1.21],
  [3, 1.35, 1.36, 1.38, 1.35, 1.38, 1.4, 1.42, 1.45, 1.48, 1.5, 1.52, 1.55, 1.5, 1.45],
  [9, 1.85, 1.88, 1.9, 1.92, 1.95, 2.0, 2.02, 2.05, 2.0, 1.98, 1.95, 1.92, 1.9, 1.88, 1.85, 1.82, 1.8, 1.75, 1.7],
  [3, 1.9, 1.92, 1.95, 1.98, 2.0, 1.98, 1.95, 1.92, 1.9, 1.88, 1.85, 1.82, 1.8, 1.78, 1.75, 1.7, 1.65, 1.6],
  [5, 1.7, 1.72, 1.75, 1.78, 1.8, 1.82, 1.85, 1.88, 1.85, 1.82, 1.8, 1.75, 1.7, 1.65, 1.6, 1.55, 1.5],
  [2, 1.6, 1.62, 1.65, 1.68, 1.7, 1.72, 1.75, 1.78, 1.8, 1.82, 1.8, 1.78, 1.75, 1.7, 1.65, 1.6, 1.55, 1.5, 1.45],
  [4, 2.05, 2.08, 2.1, 2.12, 2.1, 2.08, 2.05, 2.02, 2.0, 1.98, 1.95, 1.92, 1.9, 1.85, 1.8, 1.75, 1.7],
  [6, 1.75, 1.78, 1.8, 1.82, 1.85, 1.88, 1.9, 1.92, 1.9, 1.88, 1.85, 1.82, 1.78, 1.75, 1.7, 1.65, 1.6, 1.55, 1.5, 1.45],
  [1, 1.7, 1.75, 1.8, 1.82, 1.85, 1.88, 1.9, 1.92, 1.95, 1.98, 2.0, 1.98, 1.95, 1.9, 1.85, 1.8],
  [8, 1.55, 1.58, 1.6, 1.62, 1.65, 1.68, 1.7, 1.72, 1.7, 1.68, 1.65, 1.62, 1.6, 1.55, 1.5, 1.45, 1.4, 1.35],
  [3, 1.5, 1.52, 1.55, 1.58, 1.6, 1.62, 1.65, 1.68, 1.7, 1.72, 1.75, 1.72, 1.7, 1.68, 1.65, 1.62, 1.6],
  [7, 2.0, 2.02, 2.05, 2.08, 2.1, 2.12, 2.1, 2.08, 2.05, 2.0, 1.95, 1.9, 1.85, 1.8, 1.75, 1.7],
  [10, 1.8, 1.82, 1.85, 1.82, 1.8, 1.78, 1.75, 1.72, 1.7, 1.68, 1.65, 1.62, 1.6, 1.58, 1.55, 1.52, 1.5, 1.45, 1.4],
  [4, 1.65, 1.68, 1.7, 1.72, 1.75, 1.78, 1.8, 1.78, 1.75, 1.72, 1.7, 1.72, 1.75, 1.72, 1.7, 1.68, 1.65, 1.62, 1.6, 1.58],
  [2, 1.85, 1.88, 1.9, 1.92, 1.95, 1.92, 1.9, 1.88, 1.85, 1.82, 1.8, 1.78, 1.75, 1.72, 1.7, 1.65],
  [6, 1.6, 1.62, 1.65, 1.68, 1.72, 1.75, 1.78, 1.8, 1.82, 1.8, 1.78, 1.75, 1.72, 1.7, 1.68, 1.65, 1.6, 1.55, 1.5],
  [9, 1.45, 1.48, 1.5, 1.52, 1.55, 1.58, 1.6, 1.58, 1.55, 1.52, 1.5, 1.48, 1.45, 1.42, 1.4, 1.35, 1.3],
  [5, 1.78, 1.8, 1.82, 1.85, 1.88, 1.9, 1.92, 1.95, 1.92, 1.9, 1.88, 1.85, 1.82, 1.8, 1.78, 1.75, 1.72, 1.7, 1.65, 1.6],
  [3, 1.65, 1.68, 1.7, 1.68, 1.72, 1.7, 1.68, 1.65, 1.68, 1.7, 1.72, 1.7, 1.68, 1.65, 1.62, 1.6, 1.58, 1.55],
  [11, 1.7, 1.72, 1.75, 1.78, 1.8, 1.82, 1.85, 1.82, 1.8, 1.78, 1.75, 1.72, 1.7, 1.68, 1.65, 1.6, 1.55, 1.5, 1.45, 1.4],
  [7, 1.5, 1.52, 1.48, 1.5, 1.52, 1.55, 1.58, 1.6, 1.62, 1.65, 1.62, 1.6, 1.58, 1.55, 1.5, 1.48, 1.45, 1.4],
  [4, 1.95, 1.98, 2.0, 2.02, 2.05, 2.02, 2.0, 1.98, 1.95, 1.92, 1.9, 1.88, 1.85, 1.82, 1.8, 1.78, 1.75],
  [13, 1.95, 1.92, 1.9, 1.88, 1.85, 1.82, 1.8, 1.75, 1.7, 1.65, 1.6, 1.55, 1.5, 1.48, 1.45, 1.5, 1.52],
  [6, 1.85, 1.88, 1.9, 1.92, 1.95, 1.98, 2.0, 1.98, 1.95, 1.9, 1.85, 1.8, 1.75, 1.7, 1.65, 1.6, 1.55, 1.5, 1.45, 1.4, 1.3, 1.25, 1.2],
  [2, 1.4, 1.42, 1.45, 1.48, 1.5, 1.52, 1.55, 1.58, 1.6, 1.62, 1.6, 1.58, 1.55, 1.52, 1.5, 1.48, 1.45, 1.42, 1.4],
];

// median profiles: [radius (kpc), age (Gyr)]
const SF_Z3 = [[0.34, 0.5], [0.42, 0.515], [0.52, 0.528], [0.68, 0.534], [0.8, 0.515], [0.98, 0.478], [1.29, 0.451], [1.7, 0.438], [2.36, 0.442], [3.28, 0.435], [4.57, 0.435]];
const SF_Z2 = [[0.48, 1.285], [0.55, 1.278], [0.65, 1.28], [0.8, 1.28], [0.9, 1.275], [1.0, 1.278], [1.2, 1.275], [1.4, 1.265], [1.6, 1.26], [1.9, 1.235], [2.3, 1.205], [2.7, 1.175], [3.2, 1.14], [3.7, 1.11], [4.3, 1.09], [5.1, 1.065], [6.0, 1.045], [6.7, 1.03], [7.5, 1.02], [8.5, 1.022], [9.3, 1.025]];
const SF_Z15 = [[0.6, 2.181], [0.785, 2.19], [1.15, 2.177], [1.52, 2.105], [2.36, 2.015], [3.28, 1.924], [4.3, 1.878], [5.7, 1.833], [7.1, 1.743], [8.9, 1.725], [10.4, 1.737], [13.4, 1.688]];

const YQ_Z3 = [[0.447, 0.424], [0.695, 0.416], [0.915, 0.42], [1.14, 0.41], [1.5, 0.406], [2.09, 0.39], [2.61, 0.371], [3.26, 0.371], [4.06, 0.377], [5.36, 0.375]];
const YQ_Z2 = [[0.39, 0.885], [0.447, 0.879], [0.557, 0.898], [0.695, 0.932], [0.866, 0.963], [1.08, 0.967], [1.35, 0.971], [1.68, 0.963], [2.09, 0.971], [2.61, 0.967], [3.26, 0.971], [3.64, 0.979], [4.06, 0.973], [5.07, 0.99], [6.32, 0.998], [7.67, 1.016]];
const YQ_Z15 = [[0.573, 1.986], [0.776, 2.012], [0.967, 2.037], [1.35, 2.07], [1.59, 2.072], [1.88, 2.057], [2.34, 2.045], [2.92, 2.025], [3.64, 2.014], [4.41, 2.016], [5.07, 2.029], [7.07, 2.021], [9.28, 2.025], [12.2, 2.035], [17.1, 2.037]];

const IQ_Z3 = [[0.33, 0.41], [0.42, 0.43], [0.53, 0.449], [0.66, 0.473], [0.82, 0.465], [0.97, 0.459], [1.2, 0.434], [1.5, 0.404], [1.87, 0.391], [2.47, 0.387], [3.25, 0.381], [4.4, 0.377]];
const IQ_Z2 = [[0.39, 1.309], [0.5, 1.312], [0.66, 1.353], [0.82, 1.377], [1.02, 1.381], [1.2, 1.377], [1.59, 1.348], [2.21, 1.309], [3.08, 1.279], [4.05, 1.27], [4.77, 1.256], [5.63, 1.246], [7.22, 1.26]];
const IQ_Z15 = [[0.557, 2.328], [0.735, 2.344], [0.92, 2.373], [1.14, 2.389], [1.42, 2.373], [1.98, 2.338], [2.75, 2.299], [3.83, 2.266], [5.34, 2.232], [7.44, 2.221], [9.8, 2.217], [14.4, 2.201], [19.5, 2.182]];

const OQ_Z3 = [[0.235, 0.674], [0.285, 0.697], [0.355, 0.721], [0.468, 0.713], [0.616, 0.713], [0.768, 0.707], [0.957, 0.684], [1.19, 0.645], [1.57, 0.615], [2.07, 0.59], [2.88, 0.561]];
const OQ_Z2 = [[0.345, 1.783], [0.443, 1.799], [0.583, 1.826], [0.768, 1.844], [0.957, 1.836], [1.19, 1.807], [1.57, 1.756], [2.07, 1.713], [2.58, 1.68], [3.39, 1.637], [4.23, 1.617], [5.33, 1.586]];
const OQ_Z15 = [[0.489, 2.773], [0.616, 2.787], [0.768, 2.807], [0.957, 2.822], [1.13, 2.811], [1.41, 2.76], [1.85, 2.695], [2.44, 2.631], [3.21, 2.568], [4.48, 2.51], [6.23, 2.475], [8.68, 2.441], [11.5, 2.402], [14.9, 2.35]];

const PANEL_PROFILES = [SF_PROFILES, YQ_PROFILES, IQ_PROFILES, OQ_PROFILES];
const PANEL_MEDIANS = [
  [SF_Z3, SF_Z2, SF_Z15],
  [YQ_Z3, YQ_Z2, YQ_Z15],
  [IQ_Z3, IQ_Z2, IQ_Z15],
  [OQ_Z3, OQ_Z2, OQ_Z15],
];

// ---------------- layout / style ----------------
const GRID_LEFTS = [51, 391.3, 731.3, 1072];
const GRID_TOP = 43.5;
const GRID_W = 292;
const GRID_H = 487.5;
const AXIS_COLOR = '#7f7f7f';
const TEXT_COLOR = '#111111';
const FONT = 'DejaVu Sans';

const MEDIAN_STYLES = [
  { width: 3, type: [3, 5] as number[] | string },
  { width: 4.5, type: 'solid' as number[] | string },
  { width: 3, type: [11, 5] as number[] | string },
];

function profileToPoints(profile: number[]) {
  const [start, ...ages] = profile;
  const pts: number[][] = [];
  ages.forEach((a, k) => {
    const r = RADIUS_GRID[start + k];
    if (r !== undefined) pts.push([r, a]);
  });
  return pts;
}

function buildOption() {
  const xAxis: any[] = [];
  const yAxis: any[] = [];
  const grid: any[] = [];
  const series: any[] = [];
  const graphic: any[] = [];

  const tickLine = { color: AXIS_COLOR, width: 1 };
  const fmtX = (v: number) => (v < 0.5 ? '0.2' : String(Math.round(v)));

  for (let p = 0; p < 4; p++) {
    grid.push({ left: GRID_LEFTS[p], top: GRID_TOP, width: GRID_W, height: GRID_H, containLabel: false });
    const baseX = {
      type: 'log', logBase: 10, min: X_MIN, max: X_MAX, gridIndex: p,
      splitLine: { show: false }, minorTick: { show: false }, minorSplitLine: { show: false },
    };
    xAxis.push({
      ...baseX, position: 'bottom',
      axisLine: { show: true, onZero: false, lineStyle: { color: AXIS_COLOR, width: 1.2 } },
      axisTick: { show: true, inside: true, length: 11, customValues: X_MAJOR_TICKS, lineStyle: tickLine },
      axisLabel: { show: true, customValues: X_LABEL_TICKS, formatter: fmtX, margin: 4, fontSize: 10.5, color: TEXT_COLOR, fontFamily: FONT },
      name: 'Radius (kpc)', nameLocation: 'middle', nameGap: 17,
      nameTextStyle: { fontSize: 14.4, color: TEXT_COLOR, fontFamily: FONT },
    });
    xAxis.push({
      ...baseX, position: 'top',
      axisLine: { show: true, onZero: false, lineStyle: { color: AXIS_COLOR, width: 1.2 } },
      axisTick: { show: true, inside: true, length: 11, customValues: X_MAJOR_TICKS, lineStyle: tickLine },
      axisLabel: { show: false },
    });
    xAxis.push({
      ...baseX, position: 'bottom',
      axisLine: { show: false, onZero: false },
      axisTick: { show: true, inside: true, length: 6, customValues: X_MINOR_TICKS, lineStyle: tickLine },
      axisLabel: { show: false },
    });
    xAxis.push({
      ...baseX, position: 'top',
      axisLine: { show: false, onZero: false },
      axisTick: { show: true, inside: true, length: 6, customValues: X_MINOR_TICKS, lineStyle: tickLine },
      axisLabel: { show: false },
    });

    const baseY = { type: 'value', min: Y_MIN, max: Y_MAX, gridIndex: p, splitLine: { show: false } };
    yAxis.push({
      ...baseY, position: 'left',
      axisLine: { show: true, onZero: false, lineStyle: { color: AXIS_COLOR, width: 1.2 } },
      axisTick: { show: true, inside: true, length: 11, customValues: Y_TICKS, lineStyle: tickLine },
      axisLabel: { show: true, customValues: Y_TICKS, formatter: (v: number) => v.toFixed(1), margin: 6, fontSize: 10.5, color: TEXT_COLOR, fontFamily: FONT },
      name: 'Median Stellar Age (Gyr)', nameLocation: 'middle', nameGap: 22, nameRotate: 90,
      nameTextStyle: { fontSize: 14.4, color: TEXT_COLOR, fontFamily: FONT },
    });
    yAxis.push({
      ...baseY, position: 'right',
      axisLine: { show: true, onZero: false, lineStyle: { color: AXIS_COLOR, width: 1.2 } },
      axisTick: { show: true, inside: true, length: 11, customValues: Y_TICKS, lineStyle: tickLine },
      axisLabel: { show: false },
    });

    const xi = p * 4;
    const yi = p * 2;
    PANEL_PROFILES[p].forEach((prof, i) => {
      series.push({
        type: 'line', name: `p${p}-g${i}`, xAxisIndex: xi, yAxisIndex: yi,
        data: profileToPoints(prof), symbol: 'none', silent: true, z: 2,
        lineStyle: { width: 1, color: PROFILE_COLORS[i % 10], opacity: 0.3 },
        emphasis: { disabled: true },
      });
    });
    PANEL_MEDIANS[p].forEach((med, k) => {
      series.push({
        type: 'line', name: p === 0 ? LEGEND_LABELS[k] : `${PANEL_TITLES[p]} ${LEGEND_LABELS[k]}`,
        xAxisIndex: xi, yAxisIndex: yi, data: med, symbol: 'none', silent: true, z: 5,
        color: MEDIAN_COLORS[p],
        lineStyle: { width: MEDIAN_STYLES[k].width, type: MEDIAN_STYLES[k].type, color: MEDIAN_COLORS[p], cap: 'butt' },
        emphasis: { disabled: true },
      });
    });

    graphic.push({
      type: 'text', x: GRID_LEFTS[p] + GRID_W / 2, y: 25.2, silent: true,
      style: {
        text: `${PANEL_TITLES[p]}\n (${GALAXY_COUNTS[p]} galaxies)`,
        align: 'center', verticalAlign: 'middle', fontSize: 15.5, fontFamily: FONT,
        fontWeight: 'normal', fill: '#000', lineHeight: 18,
      },
    });
  }

  return {
    animation: false,
    backgroundColor: '#ffffff',
    textStyle: { fontFamily: FONT },
    grid, xAxis, yAxis, series, graphic,
    legend: {
      show: true, orient: 'vertical', left: 259.3, top: 49.3, selectedMode: false,
      itemWidth: 27, itemHeight: 14, itemGap: 4.3, padding: [3, 6, 3, 4],
      backgroundColor: '#ffffff', borderColor: '#d6d6d6', borderWidth: 1, borderRadius: 3,
      textStyle: { fontSize: 11.5, color: TEXT_COLOR, fontFamily: FONT },
      data: LEGEND_LABELS.map((name, k) => ({
        name,
        itemStyle: { opacity: 0 },
        lineStyle: { width: MEDIAN_STYLES[k].width, type: MEDIAN_STYLES[k].type, color: MEDIAN_COLORS[0] },
      })),
    },
  };
}

export default function App() {
  const ref = useRef<HTMLDivElement>(null);
  useEffect(() => {
    if (!ref.current) return;
    const chart = echarts.init(ref.current, null, { renderer: 'svg' });
    chart.setOption(buildOption() as any);
    return () => chart.dispose();
  }, []);
  return (
    <div
      ref={ref}
      style={{ position: 'absolute', left: 0, top: 0, width: 1376, height: 565, background: '#ffffff' }}
    />
  );
}
